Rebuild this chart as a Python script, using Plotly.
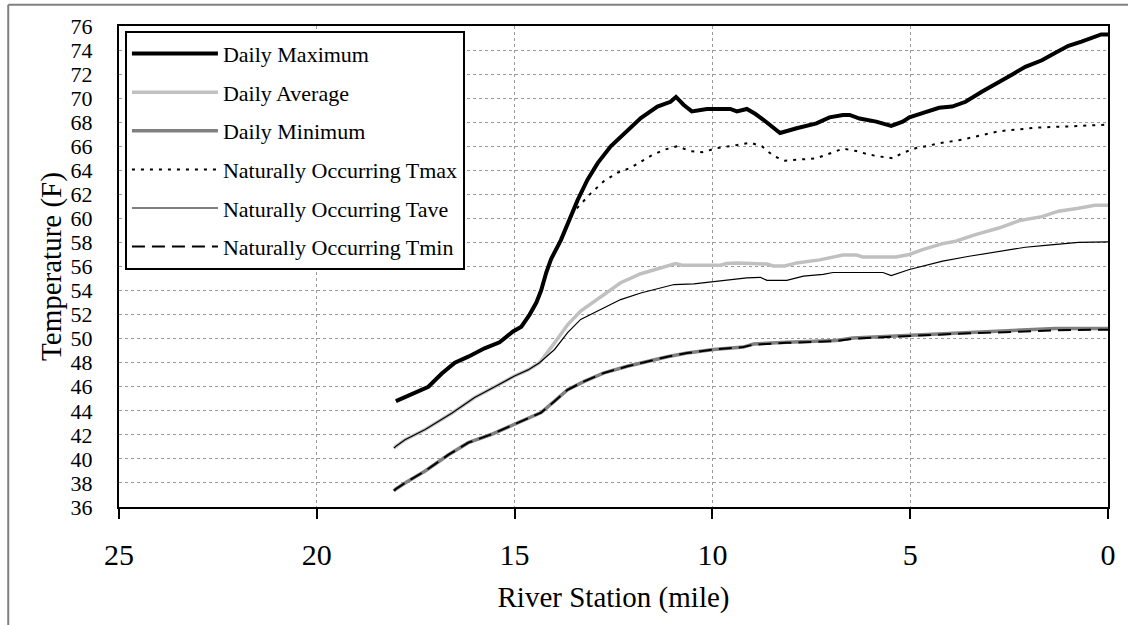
import plotly.graph_objects as go

# River station (miles upstream of the mouth) and simulated stream temperatures (deg F)
max_mile = [18.0, 17.43, 17.18, 16.84, 16.51, 16.17, 15.76, 15.38, 15.04, 14.83, 14.62, 14.45,
            14.33, 14.2, 14.08, 13.83, 13.62, 13.41, 13.16, 12.9, 12.57, 12.23, 11.81, 11.39,
            11.06, 10.92, 10.73, 10.52, 10.14, 9.55, 9.38, 9.13, 8.92, 8.71, 8.29, 7.87, 7.37,
            7.04, 6.7, 6.53, 6.28, 5.86, 5.48, 5.19, 5.02, 4.69, 4.27, 3.94, 3.6, 3.18, 2.76,
            2.43, 2.09, 1.67, 1.34, 1.0, 0.67, 0.33, 0.17, 0.0]
daily_max = [44.8, 45.6, 46.0, 47.1, 48.0, 48.5, 49.2, 49.7, 50.6, 51.0, 52.0, 53.0,
             54.0, 55.5, 56.6, 58.2, 59.9, 61.5, 63.2, 64.6, 66.0, 67.1, 68.35, 69.3,
             69.7, 70.1, 69.45, 68.9, 69.1, 69.1, 68.9, 69.1, 68.7, 68.2, 67.1, 67.5, 67.9,
             68.4, 68.6, 68.6, 68.3, 68.05, 67.7, 68.05, 68.4, 68.75, 69.2, 69.3, 69.7, 70.55, 71.3,
             71.95, 72.6, 73.15, 73.75, 74.35, 74.7, 75.1, 75.3, 75.3]

avg_mile = [18.05, 18.0, 17.77, 17.26, 16.59, 16.01, 15.5, 15.0, 14.66, 14.37, 13.99, 13.66,
            13.33, 12.82, 12.32, 11.81, 11.31, 10.93, 10.77, 9.8, 9.64, 9.38, 8.62, 8.46, 8.17,
            7.87, 7.29, 6.7, 6.36, 6.2, 5.36, 5.02, 4.69, 4.18, 3.85, 3.35, 2.76, 2.26, 1.67,
            1.25, 0.75, 0.33, 0.0]
daily_avg = [40.9, 41.05, 41.6, 42.45, 43.8, 45.1, 46.0, 46.9, 47.4, 48.0, 49.65, 51.15,
             52.3, 53.5, 54.65, 55.4, 55.9, 56.25, 56.1, 56.1, 56.25, 56.3, 56.2, 56.05, 56.05,
             56.3, 56.55, 56.95, 56.95, 56.8, 56.8, 57.0, 57.4, 57.9, 58.1, 58.65, 59.2, 59.8, 60.15,
             60.6, 60.85, 61.1, 61.1]

min_mile = [18.05, 18.0, 17.77, 17.26, 16.67, 16.17, 15.58, 15.04, 14.66, 14.33, 13.99, 13.66,
            13.24, 12.74, 12.15, 11.65, 11.14, 10.64, 9.97, 9.22, 8.96, 8.12, 6.87, 6.45, 5.53,
            4.69, 3.51, 2.43, 1.34, 0.0]
daily_min = [37.35, 37.5, 38.0, 39.0, 40.35, 41.35, 42.05, 42.85, 43.35, 43.85, 44.8, 45.75,
             46.45, 47.15, 47.7, 48.1, 48.5, 48.8, 49.1, 49.3, 49.55, 49.7, 49.85, 50.05, 50.2,
             50.35, 50.5, 50.65, 50.85, 50.85]

# Naturally occurring temperatures (match the simulated profiles upstream of the divergence)
nat_max_mile = [18.0, 17.43, 17.18, 16.84, 16.51, 16.17, 15.76, 15.38, 15.04, 14.83, 14.62, 14.45,
                14.33, 14.2, 14.08, 13.83, 13.62, 13.55, 13.07, 12.74, 12.4, 12.07, 11.56, 11.23,
                10.89, 10.56, 10.26, 9.88, 9.38, 9.05, 8.75, 8.46, 8.17, 7.37, 6.95, 6.7, 6.36,
                6.03, 5.78, 5.44, 5.19, 4.85, 4.6, 4.27, 3.68, 3.35, 2.76, 2.26, 1.84, 1.0, 0.0]
nat_tmax = [44.8, 45.6, 46.0, 47.1, 48.0, 48.5, 49.2, 49.7, 50.6, 51.0, 52.0, 53.0,
            54.0, 55.5, 56.6, 58.2, 59.9, 60.4, 62.1, 63.1, 63.8, 64.2, 65.2, 65.7,
            66.0, 65.6, 65.5, 65.85, 66.1, 66.3, 66.0, 65.2, 64.8, 65.0, 65.5, 65.8, 65.6,
            65.3, 65.15, 65.0, 65.45, 65.85, 66.0, 66.25, 66.55, 66.8, 67.25, 67.4, 67.55, 67.65, 67.8]

nat_ave_mile = [18.05, 18.0, 17.77, 17.26, 16.59, 16.01, 15.5, 15.0, 14.66, 14.37, 13.99, 13.66,
                13.33, 12.82, 12.32, 11.81, 11.31, 10.97, 10.47, 10.05, 9.55, 9.13, 8.79, 8.62,
                8.12, 7.7, 7.2, 6.95, 5.69, 5.48, 5.02, 4.69, 4.18, 3.51, 2.76, 2.09, 1.58, 0.75, 0.0]
nat_tave = [40.9, 41.05, 41.6, 42.45, 43.8, 45.1, 46.0, 46.9, 47.4, 48.0, 49.1, 50.5,
            51.6, 52.4, 53.25, 53.8, 54.2, 54.5, 54.55, 54.7, 54.85, 55.05, 55.1, 54.85,
            54.85, 55.2, 55.35, 55.5, 55.5, 55.25, 55.75, 56.0, 56.45, 56.85, 57.25, 57.6, 57.75, 58.0, 58.05]

nat_min_mile = [18.05, 18.0, 17.77, 17.26, 16.67, 16.17, 15.58, 15.04, 14.66, 14.33, 13.99, 13.66,
                13.24, 12.74, 12.15, 11.65, 11.14, 10.64, 9.97, 9.22, 8.96, 8.12, 6.87, 6.45, 5.53,
                4.69, 3.51, 2.43, 1.34, 0.0]
nat_tmin = [37.35, 37.5, 38.0, 39.0, 40.35, 41.35, 42.05, 42.85, 43.35, 43.85, 44.8, 45.75,
            46.45, 47.15, 47.7, 48.1, 48.5, 48.8, 49.1, 49.3, 49.5, 49.65, 49.8, 50.0, 50.15,
            50.3, 50.45, 50.55, 50.7, 50.75]

x_ticks = [25, 20, 15, 10, 5, 0]
y_ticks = list(range(36, 77, 2))

FONT = "Liberation Serif, Times New Roman, serif"

series = [
    ("Daily Maximum", max_mile, daily_max, dict(color="#000000", width=4)),
    ("Daily Average", avg_mile, daily_avg, dict(color="#C0C0C0", width=3.5)),
    ("Daily Minimum", min_mile, daily_min, dict(color="#808080", width=3.5)),
    ("Naturally Occurring Tmax", nat_max_mile, nat_tmax, dict(color="#000000", width=2, dash="3px,6px")),
    ("Naturally Occurring Tave", nat_ave_mile, nat_tave, dict(color="#000000", width=1.2)),
    ("Naturally Occurring Tmin", nat_min_mile, nat_tmin, dict(color="#000000", width=2, dash="13px,7px")),
]

fig = go.Figure()
for i, (name, xs, ys, line) in enumerate(series):
    fig.add_trace(go.Scatter(x=xs, y=ys, mode="lines", name=name, line=line,
                             legendgroup=f"g{i}"))

# outer chart frame (only its top and left edges fall inside the canvas)
frame = dict(color="#808080", width=2)
fig.add_shape(type="line", xref="paper", yref="paper", x0=-0.112, x1=1.03, y0=1.044, y1=1.044, line=frame)
fig.add_shape(type="line", xref="paper", yref="paper", x0=-0.112, x1=-0.112, y0=1.044, y1=-0.26, line=frame)

fig.update_layout(
    width=1128, height=625,
    margin=dict(l=119, r=15, t=26, b=118),
    paper_bgcolor="white", plot_bgcolor="white",
    font=dict(family=FONT, color="#000000"),
    showlegend=True,
    legend=dict(
        x=0.006, y=0.99, xanchor="left", yanchor="top",
        bgcolor="white", bordercolor="#000000", borderwidth=2,
        font=dict(family=FONT, size=22, color="#000000"),
        itemwidth=86, tracegroupgap=7, traceorder="grouped",
    ),
    xaxis=dict(
        range=[25, 0], tickvals=x_ticks, ticktext=[str(v) for v in x_ticks],
        ticks="outside", ticklen=10, tickwidth=2, tickcolor="#000000",
        showline=True, linecolor="#000000", linewidth=2, mirror=True,
        showgrid=True, gridcolor="#9a9a9a", gridwidth=1, griddash="dot",
        zeroline=False,
        tickfont=dict(family=FONT, size=30),
        ticklabelstandoff=10,
        title=dict(text="River Station (mile)", font=dict(family=FONT, size=29), standoff=17),
    ),
    yaxis=dict(
        range=[36, 76], tickvals=y_ticks, ticktext=[str(v) for v in y_ticks],
        ticks="", showline=True, linecolor="#000000", linewidth=2, mirror=True,
        showgrid=True, gridcolor="#9a9a9a", gridwidth=1, griddash="dot",
        zeroline=False,
        tickfont=dict(family=FONT, size=22),
        ticklabelstandoff=20,
        title=dict(text="Temperature (F)", font=dict(family=FONT, size=29), standoff=0),
    ),
)

fig.write_html("out.html")
